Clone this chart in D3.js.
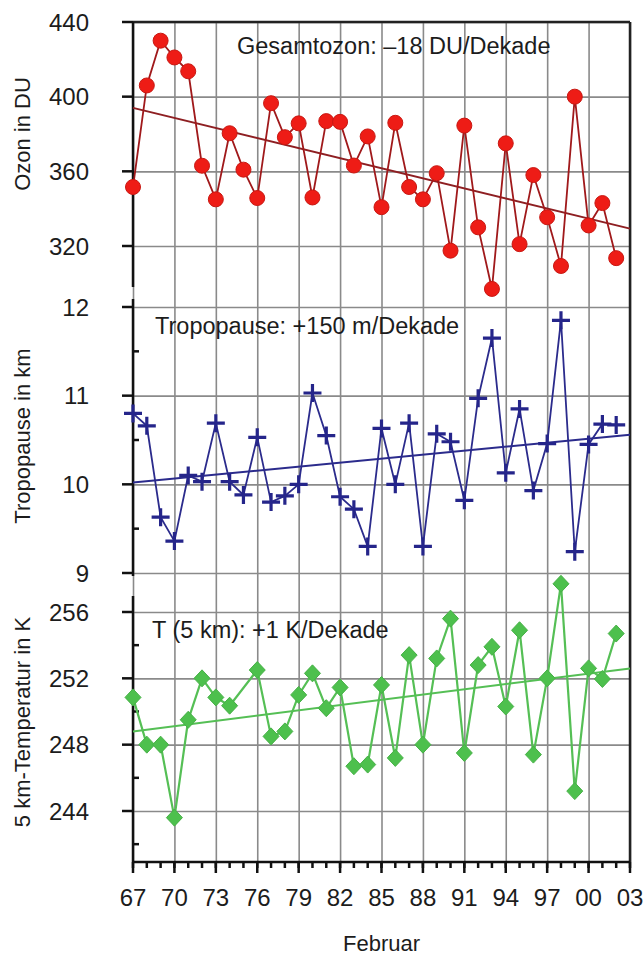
<!DOCTYPE html>
<html>
<head>
<meta charset="utf-8">
<script src="https://cdn.jsdelivr.net/npm/d3@7"></script>
<style>
  body { margin: 0; background: #fff; }
  text { font-family: "Liberation Sans", Arial, sans-serif; fill: #1c1c1c; }
  .grid line { stroke: #8a8a8a; stroke-width: 1.6; }
  .grid path { display: none; }
  .axis path, .axis line { stroke: #111; stroke-width: 2.5; }
</style>
</head>
<body>
<div id="chart"></div>
<script>
// February means, 1967 - 2002
var years = [1967, 1968, 1969, 1970, 1971, 1972, 1973, 1974, 1975, 1976, 1977, 1978,
             1979, 1980, 1981, 1982, 1983, 1984, 1985, 1986, 1987, 1988, 1989, 1990,
             1991, 1992, 1993, 1994, 1995, 1996, 1997, 1998, 1999, 2000, 2001, 2002];

// total ozone (DU)
var ozone = [351.6, 406, 430, 421, 413.6, 363, 345, 380.4, 360.9, 345.7, 396.5, 378.3,
             385.7, 346, 386.9, 386.5, 363.1, 378.7, 340.8, 386, 351.6, 345, 359, 317.5,
             384.5, 330, 297, 375, 321, 358, 335.4, 309.3, 400, 331, 343, 313.5];

// tropopause height (km)
var tropo = [10.80, 10.66, 9.63, 9.36, 10.10, 10.03, 10.69, 10.03, 9.88, 10.53, 9.80, 9.87,
             10.0, 11.03, 10.55, 9.86, 9.72, 9.30, 10.63, 10.0, 10.69, 9.30, 10.57, 10.48,
             9.82, 10.97, 11.65, 10.13, 10.85, 9.93, 10.46, 11.85, 9.24, 10.45, 10.68, 10.67];

// temperature in 5 km (K), no value for 1975
var temp = [250.85, 248.0, 248.0, 243.6, 249.5, 252.0, 250.85, 250.35, null, 252.5, 248.5, 248.8,
            251.0, 252.3, 250.2, 251.45, 246.7, 246.8, 251.6, 247.2, 253.4, 248.0, 253.2, 255.6,
            247.5, 252.8, 253.9, 250.3, 254.9, 247.4, 252.0, 257.7, 245.2, 252.6, 251.96, 254.7];

// trend lines, start and end
var trendYears = [1967, 2003];
var ozoneTrend = [394, 329.3];
var tropoTrend = [10.02, 10.56];
var tempTrend = [248.8, 252.6];

// ticks
var xTickYears = [1967, 1970, 1973, 1976, 1979, 1982, 1985, 1988, 1991, 1994, 1997, 2000, 2003];
var xTickLabels = ["67", "70", "73", "76", "79", "82", "85", "88", "91", "94", "97", "00", "03"];
var xMinorYears = [1967, 1968, 1969, 1970, 1971, 1972, 1973, 1974, 1975, 1976, 1977, 1978,
                   1979, 1980, 1981, 1982, 1983, 1984, 1985, 1986, 1987, 1988, 1989, 1990,
                   1991, 1992, 1993, 1994, 1995, 1996, 1997, 1998, 1999, 2000, 2001, 2002, 2003];
var ozoneTicks = [440, 400, 360, 320];
var tropoTicks = [12, 11, 10, 9];
var tropoMinor = [11.5, 10.5, 9.5];
var tempTicks = [256, 252, 248, 244];
var tempMinor = [254, 250, 246, 242];

// plot box
var pLeft = 133, pRight = 630, pTop = 22, pBottom = 862;

var svg = d3.select("#chart").append("svg")
    .attr("width", 643)
    .attr("height", 960);

var x = d3.scaleLinear().domain([1967, 2003]).range([pLeft, pRight]);

var yOz = d3.scaleLinear().domain([320, 440]).range([246, pTop]);
var yTr = d3.scaleLinear().domain([9, 12]).range([573, 307]);
var yTe = d3.scaleLinear().domain([244, 256]).range([811, 612]);

// vertical grid
svg.append("g")
    .attr("class", "grid")
    .attr("transform", "translate(0," + pBottom + ")")
    .call(d3.axisBottom(x).tickValues(xTickYears).tickSize(-(pBottom - pTop)).tickFormat(""));

// horizontal grids
function hGrid(y, ticks) {
    svg.append("g")
        .attr("class", "grid")
        .attr("transform", "translate(" + pLeft + ",0)")
        .call(d3.axisLeft(y).tickValues(ticks).tickSize(-(pRight - pLeft)).tickFormat(""));
}
hGrid(yOz, ozoneTicks);
hGrid(yTr, tropoTicks);
hGrid(yTe, tempTicks);

// frame top and right
svg.append("line").attr("x1", pLeft).attr("x2", pRight).attr("y1", pTop).attr("y2", pTop)
    .style("stroke", "#222").style("stroke-width", 2.5);
svg.append("line").attr("x1", pRight).attr("x2", pRight).attr("y1", pTop).attr("y2", pBottom)
    .style("stroke", "#222").style("stroke-width", 2.5);

// left axes, one per panel
function yAxis(y, ticks, minor, y0, y1) {
    var g = svg.append("g")
        .attr("class", "axis")
        .attr("transform", "translate(" + pLeft + ",0)");
    g.append("line").attr("x1", 0).attr("x2", 0).attr("y1", y0).attr("y2", y1);
    g.selectAll(".major").data(ticks).enter().append("line")
        .attr("x1", -11).attr("x2", 0)
        .attr("y1", d => y(d)).attr("y2", d => y(d));
    g.selectAll(".minor").data(minor).enter().append("line")
        .attr("x1", 0).attr("x2", 6)
        .attr("y1", d => y(d)).attr("y2", d => y(d));
    g.selectAll("text").data(ticks).enter().append("text")
        .attr("x", -44)
        .attr("y", d => y(d))
        .attr("dy", "0.36em")
        .attr("text-anchor", "end")
        .style("font-size", "24px")
        .text(d => d);
}
yAxis(yOz, ozoneTicks, [], pTop, 287);
yAxis(yTr, tropoTicks, tropoMinor, 299, 576);
yAxis(yTe, tempTicks, tempMinor, 596, pBottom);

// bottom axis
var xg = svg.append("g").attr("class", "axis");
xg.append("line").attr("x1", pLeft).attr("x2", pRight).attr("y1", pBottom).attr("y2", pBottom);
xg.selectAll(".minor").data(xMinorYears).enter().append("line")
    .attr("x1", d => x(d)).attr("x2", d => x(d))
    .attr("y1", pBottom).attr("y2", pBottom + 6);
xg.selectAll(".major").data(xTickYears).enter().append("line")
    .attr("x1", d => x(d)).attr("x2", d => x(d))
    .attr("y1", pBottom).attr("y2", pBottom + 11);
xg.selectAll("text").data(xTickYears).enter().append("text")
    .attr("x", d => x(d))
    .attr("y", 906)
    .attr("text-anchor", "middle")
    .style("font-size", "24px")
    .text((d, i) => xTickLabels[i]);

svg.append("text")
    .attr("x", (pLeft + pRight) / 2)
    .attr("y", 951)
    .attr("text-anchor", "middle")
    .style("font-size", "22px")
    .text("Februar");

// axis titles
var titles = [["Ozon in DU", 134], ["Tropopause in km", 436], ["5 km-Temperatur in K", 722]];
svg.selectAll(".ytitle").data(titles).enter().append("text")
    .attr("transform", d => "translate(30," + d[1] + ") rotate(-90)")
    .attr("text-anchor", "middle")
    .style("font-size", "22px")
    .text(d => d[0]);

// panel captions
svg.append("text").attr("x", 237).attr("y", 54).style("font-size", "23.5px")
    .text("Gesamtozon: \u201318 DU/Dekade");
svg.append("text").attr("x", 155).attr("y", 334).style("font-size", "23.5px")
    .text("Tropopause: +150 m/Dekade");
svg.append("text").attr("x", 152).attr("y", 638).style("font-size", "23.5px")
    .text("T (5 km): +1 K/Dekade");

function series(values, y, color, lw) {
    var pts = years.map((yr, i) => [yr, values[i]]).filter(d => d[1] !== null);
    var line = d3.line().x(d => x(d[0])).y(d => y(d[1]));
    svg.append("path").datum(pts)
        .attr("d", line)
        .style("fill", "none")
        .style("stroke", color)
        .style("stroke-width", lw);
    return pts;
}
function trend(vals, y, color) {
    svg.append("path")
        .datum(trendYears.map((yr, i) => [yr, vals[i]]))
        .attr("d", d3.line().x(d => x(d[0])).y(d => y(d[1])))
        .style("fill", "none")
        .style("stroke", color)
        .style("stroke-width", 2);
}

// ozone
trend(ozoneTrend, yOz, "#8e1f22");
var ozPts = series(ozone, yOz, "#a0191b", 1.8);
svg.selectAll(".oz").data(ozPts).enter().append("circle")
    .attr("cx", d => x(d[0]))
    .attr("cy", d => yOz(d[1]))
    .attr("r", 7.5)
    .style("fill", "#ee1c16")
    .style("stroke", "#c81812")
    .style("stroke-width", 1);

// tropopause
trend(tropoTrend, yTr, "#2b2b8c");
var trPts = series(tropo, yTr, "#2b2b8c", 1.8);
svg.selectAll(".tr").data(trPts).enter().append("path")
    .attr("transform", d => "translate(" + x(d[0]) + "," + yTr(d[1]) + ")")
    .attr("d", "M-9,0H9M0,-9V9")
    .style("stroke", "#25258a")
    .style("stroke-width", 3.2);

// temperature
trend(tempTrend, yTe, "#55bf55");
var tePts = series(temp, yTe, "#55bf55", 2.2);
svg.selectAll(".te").data(tePts).enter().append("path")
    .attr("transform", d => "translate(" + x(d[0]) + "," + yTe(d[1]) + ")")
    .attr("d", "M0,-8.5L8,0L0,8.5L-8,0Z")
    .style("fill", "#4dc04d")
    .style("stroke", "#46b046")
    .style("stroke-width", 1);
</script>
</body>
</html>
